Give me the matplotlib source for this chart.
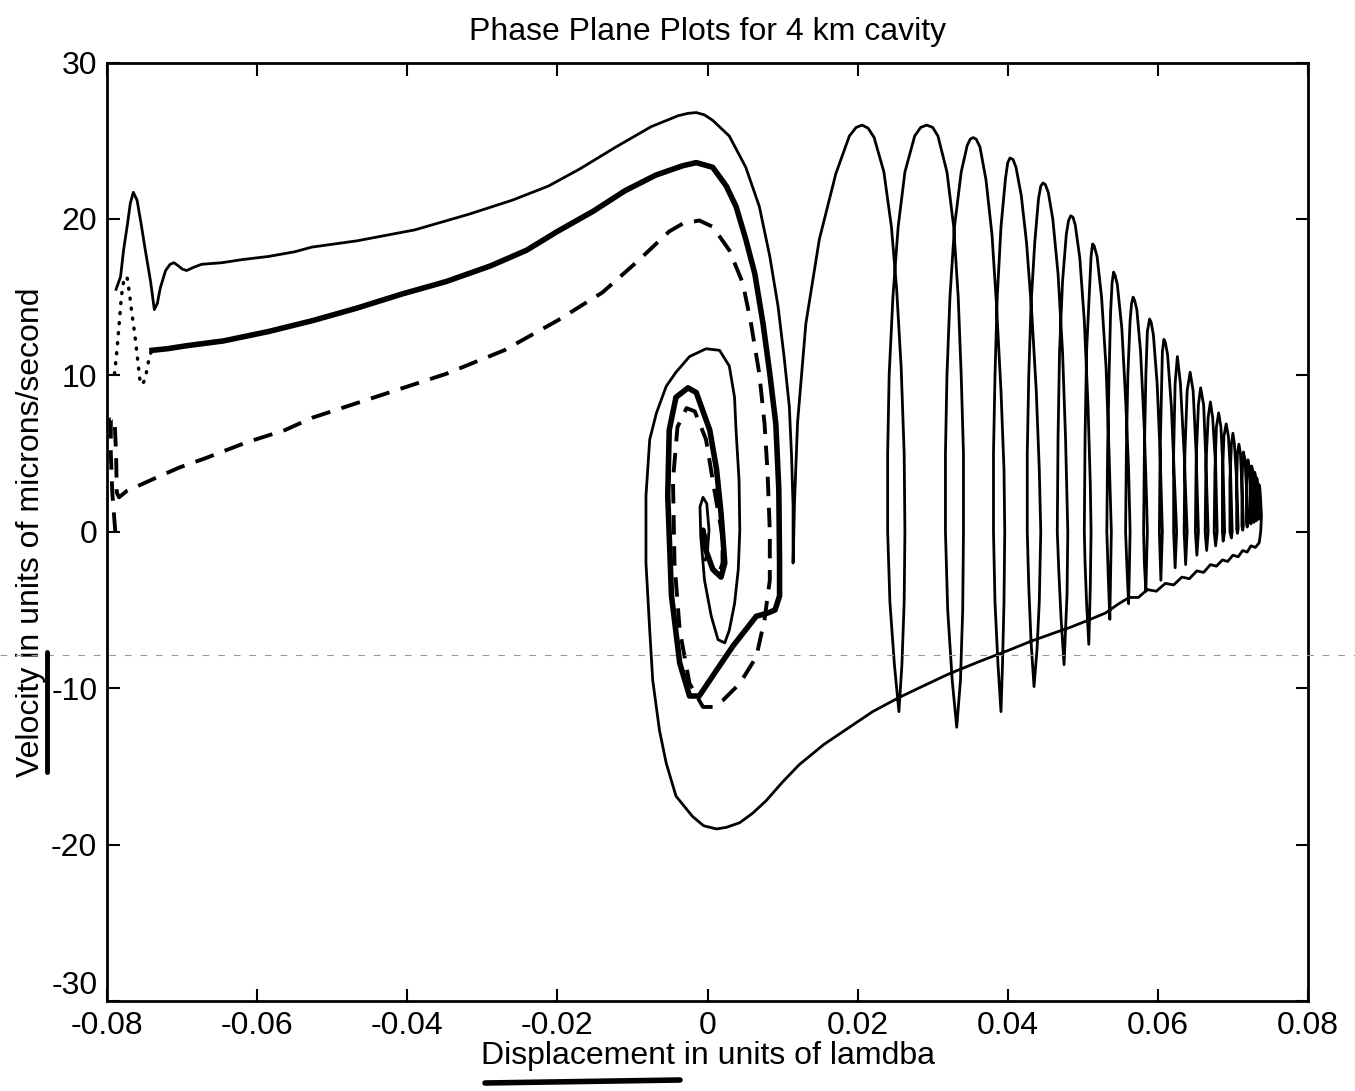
""" Phase plane plots for a 4 km cavity, redrawn from a scanned figure """

import numpy as np
import matplotlib
matplotlib.use('Agg')
import matplotlib.pyplot as plt
from matplotlib.lines import Line2D

# axis ticks and labels
x_ticks = [-0.08, -0.06, -0.04, -0.02, 0, 0.02, 0.04, 0.06, 0.08]
x_tick_labels = ['-0.08', '-0.06', '-0.04', '-0.02', '0', '0.02', '0.04', '0.06', '0.08']
y_ticks = [-30, -20, -10, 0, 10, 20, 30]
y_tick_labels = ['-30', '-20', '-10', '0', '10', '20', '30']

# thin solid trajectory: start on the left, over the top, down to the cusp
outer_top = [
    (-0.0788, 15.5), (-0.0782, 16.3), (-0.0778, 18.0), (-0.0773, 19.6), (-0.0769, 21.0),
    (-0.0765, 21.7), (-0.0760, 21.2), (-0.0755, 19.8), (-0.0749, 18.0), (-0.0742, 16.0),
    (-0.0737, 14.2), (-0.0733, 14.6), (-0.0729, 15.6), (-0.0722, 16.7), (-0.0716, 17.1),
    (-0.0711, 17.2), (-0.0705, 17.0), (-0.0700, 16.8), (-0.0694, 16.7), (-0.0685, 16.9),
    (-0.0674, 17.1), (-0.0647, 17.2), (-0.0620, 17.4), (-0.0585, 17.6), (-0.0550, 17.9),
    (-0.0527, 18.2), (-0.0467, 18.6), (-0.0390, 19.3), (-0.0318, 20.3), (-0.0260, 21.2),
    (-0.0212, 22.1), (-0.0170, 23.2), (-0.0122, 24.6), (-0.0075, 25.9), (-0.0039, 26.6),
    (-0.0026, 26.75), (-0.0015, 26.8), (-0.0004, 26.65), (0.0007, 26.3), (0.0029, 25.3),
    (0.0051, 23.3), (0.0069, 20.8), (0.0083, 17.6), (0.0094, 14.4), (0.0102, 11.2),
    (0.0109, 8.0), (0.0112, 4.8), (0.0114, 1.6), (0.0114, -2.0),
]

# thin solid trajectory: the shrinking oscillations on the right
oscillations = [
    (0.0116, 2.0), (0.0120, 7.0), (0.0131, 13.3), (0.0149, 18.7), (0.0171, 22.9),
    (0.0189, 25.3), (0.0198, 25.85), (0.0206, 26.0), (0.0214, 25.8), (0.0222, 25.2),
    (0.0235, 23.0), (0.0245, 19.5), (0.0252, 15.5), (0.0258, 10.5), (0.0262, 5.0),
    (0.0263, 0.0), (0.0262, -4.5), (0.0259, -8.5), (0.0255, -11.5),
    (0.0249, -8.5), (0.0243, -4.5), (0.0240, 0.0), (0.0240, 5.0), (0.0242, 10.0),
    (0.0247, 15.0), (0.0254, 19.5), (0.0263, 23.0), (0.0276, 25.3), (0.0284, 25.85),
    (0.0292, 26.0), (0.0300, 25.85), (0.0307, 25.3), (0.0319, 23.0), (0.0328, 19.5),
    (0.0334, 15.0), (0.0338, 10.0), (0.0341, 5.0), (0.0341, 0.0), (0.0340, -5.0),
    (0.0337, -9.5), (0.0332, -12.5),
    (0.0326, -9.5), (0.0320, -5.0), (0.0317, 0.0), (0.0317, 5.0), (0.0319, 10.0),
    (0.0323, 15.0), (0.0329, 19.5), (0.0338, 23.0), (0.0346, 24.7), (0.0350, 25.1),
    (0.0354, 25.2), (0.0358, 25.1), (0.0363, 24.6), (0.0371, 22.5), (0.0379, 19.0),
    (0.0385, 14.5), (0.0391, 9.0), (0.0395, 4.0), (0.0396, 0.0), (0.0395, -4.5),
    (0.0393, -8.5), (0.0391, -11.5),
    (0.0387, -8.5), (0.0383, -4.5), (0.0381, 0.0), (0.0381, 5.0), (0.0383, 10.0),
    (0.0386, 15.0), (0.0391, 19.5), (0.0397, 22.6), (0.0400, 23.6), (0.0403, 23.9),
    (0.0407, 23.8), (0.0411, 23.3), (0.0418, 21.5), (0.0425, 18.5), (0.0432, 14.0),
    (0.0438, 9.0), (0.0442, 4.0), (0.0444, 0.0), (0.0442, -4.5), (0.0439, -7.5),
    (0.0435, -9.9),
    (0.0431, -7.0), (0.0428, -3.5), (0.0426, 0.0), (0.0426, 5.0), (0.0428, 10.0),
    (0.0431, 14.5), (0.0436, 18.5), (0.0441, 21.3), (0.0444, 22.1), (0.0447, 22.3),
    (0.0450, 22.2), (0.0454, 21.7), (0.0460, 20.0), (0.0467, 16.5), (0.0473, 11.5),
    (0.0477, 6.0), (0.0480, 0.0), (0.0479, -4.0), (0.0475, -8.5),
    (0.0471, -5.5), (0.0468, -2.5), (0.0466, 0.0), (0.0467, 6.0), (0.0469, 11.5),
    (0.0473, 16.0), (0.0478, 19.0), (0.0481, 19.9), (0.0484, 20.2), (0.0487, 20.1),
    (0.0490, 19.6), (0.0496, 17.5), (0.0502, 13.5), (0.0507, 8.0), (0.0510, 3.0),
    (0.0511, 0.0), (0.0510, -3.5), (0.0508, -7.2),
    (0.0505, -4.5), (0.0503, -2.0), (0.0502, 0.0), (0.0503, 6.0), (0.0505, 11.5),
    (0.0509, 15.5), (0.0511, 17.6), (0.0513, 18.4), (0.0515, 18.3), (0.0519, 17.6),
    (0.0525, 15.0), (0.0531, 10.5), (0.0535, 5.0), (0.0538, 0.0), (0.0537, -3.0),
    (0.0536, -5.6),
    (0.0534, -3.0), (0.0532, 0.0), (0.0533, 5.0), (0.0535, 10.0), (0.0537, 14.0),
    (0.0539, 15.9), (0.0541, 16.6), (0.0543, 16.4), (0.0546, 15.8), (0.0552, 13.0),
    (0.0557, 8.5), (0.0561, 4.0), (0.0563, 0.0), (0.0562, -2.5), (0.0561, -4.6),
    (0.0559, -2.5), (0.0557, 0.0), (0.0558, 5.0), (0.0560, 10.0), (0.0563, 13.5),
    (0.0565, 14.6), (0.0567, 15.0), (0.0569, 14.8), (0.0572, 14.2), (0.0577, 11.5),
    (0.0582, 6.5), (0.0585, 2.0), (0.0586, 0.0), (0.0585, -2.0), (0.0584, -3.8),
    (0.0582, -2.0), (0.0581, 0.0), (0.0582, 5.0), (0.0584, 10.0), (0.0586, 12.8),
    (0.0589, 13.6), (0.0591, 13.4), (0.0594, 12.6), (0.0599, 9.5), (0.0603, 5.0),
    (0.0606, 0.0), (0.0605, -1.5), (0.0604, -3.1),
    (0.0603, -1.5), (0.0602, 0.0), (0.0603, 5.0), (0.0605, 9.5), (0.0606, 11.5),
    (0.0608, 12.3), (0.0610, 12.1), (0.0613, 11.3), (0.0618, 8.0), (0.0622, 3.5),
    (0.0625, 0.0), (0.0623, -2.3),
    (0.0621, 0.0), (0.0621, 5.0), (0.0623, 9.5), (0.0626, 11.2), (0.0630, 9.5),
    (0.0635, 5.0), (0.0639, 0.0), (0.0637, -2.1),
    (0.0635, 0.0), (0.0636, 5.0), (0.0639, 9.0), (0.0643, 10.2), (0.0647, 9.0),
    (0.0651, 5.0), (0.0654, 0.0), (0.0652, -1.5),
    (0.0650, 0.0), (0.0651, 4.5), (0.0654, 8.1), (0.0657, 9.2), (0.0661, 8.1),
    (0.0664, 4.5), (0.0667, 0.0), (0.0665, -1.2),
    (0.0663, 0.0), (0.0664, 4.2), (0.0667, 7.3), (0.0670, 8.3), (0.0673, 7.3),
    (0.0677, 4.2), (0.0679, 0.0), (0.0677, -0.9),
    (0.0675, 0.0), (0.0676, 3.8), (0.0678, 6.7), (0.0681, 7.6), (0.0684, 6.7),
    (0.0687, 3.8), (0.0689, 0.0), (0.0687, -0.6),
    (0.0686, 0.0), (0.0686, 3.5), (0.0688, 6.1), (0.0691, 6.9), (0.0694, 6.1),
    (0.0697, 3.5), (0.0699, 0.0), (0.0698, -0.4),
    (0.0696, 0.0), (0.0696, 3.3), (0.0698, 5.6), (0.0700, 6.3), (0.0702, 5.6),
    (0.0705, 3.3), (0.0707, 0.2), (0.0706, -0.1),
    (0.0705, 0.2), (0.0705, 3.0), (0.0706, 5.0), (0.0708, 5.6), (0.0710, 5.0),
    (0.0712, 3.0), (0.0714, 0.4), (0.0713, 0.1),
    (0.0712, 0.4), (0.0712, 2.9), (0.0713, 4.6), (0.0714, 5.1), (0.0716, 4.6),
    (0.0718, 2.9), (0.0720, 0.6), (0.0719, 0.3),
    (0.0718, 0.6), (0.0718, 2.7), (0.0719, 4.1), (0.0720, 4.6), (0.0722, 4.1),
    (0.0723, 2.7), (0.0725, 0.8), (0.0724, 0.5),
    (0.0723, 0.8), (0.0723, 2.6), (0.0724, 3.8), (0.0725, 4.2), (0.0727, 3.8),
    (0.0728, 2.6), (0.0729, 0.9), (0.0728, 0.6),
    (0.0727, 0.9), (0.0727, 2.4), (0.0728, 3.4), (0.0729, 3.8), (0.0731, 3.4),
    (0.0731, 2.4), (0.0732, 1.0), (0.0731, 0.7),
    (0.0730, 1.0), (0.0730, 2.3), (0.0731, 3.1), (0.0732, 3.4), (0.0733, 3.1),
    (0.0734, 2.3), (0.0735, 1.1), (0.0734, 0.8),
    (0.0733, 1.1), (0.0733, 2.2), (0.0734, 2.8), (0.0735, 3.0), (0.0736, 2.7),
    (0.0737, 2.0), (0.0738, 1.0), (0.0737, 0.0), (0.0735, -0.7),
]

# thin solid trajectory: the return sweep along the bottom
return_path = [
    (0.0730, -1.0), (0.0724, -0.9), (0.0719, -1.3), (0.0713, -1.2), (0.0707, -1.6),
    (0.0700, -1.5), (0.0693, -1.9), (0.0686, -1.8), (0.0678, -2.2), (0.0670, -2.1),
    (0.0661, -2.6), (0.0652, -2.5), (0.0642, -3.0), (0.0632, -2.9), (0.0621, -3.4),
    (0.0610, -3.3), (0.0598, -3.8), (0.0586, -3.7), (0.0574, -4.2), (0.0562, -4.2),
    (0.0548, -4.6), (0.0530, -5.2), (0.0510, -5.6), (0.0484, -6.1), (0.0460, -6.5),
    (0.0431, -7.0), (0.0400, -7.6), (0.0362, -8.3), (0.0321, -9.1), (0.0290, -9.8),
    (0.0255, -10.6), (0.0220, -11.5), (0.0189, -12.5), (0.0155, -13.6), (0.0122, -14.9),
    (0.0100, -16.0), (0.0078, -17.2), (0.0060, -18.0), (0.0043, -18.6), (0.0025, -18.9),
    (0.0012, -19.0), (-0.0005, -18.8), (-0.0020, -18.2), (-0.0042, -16.9), (-0.0055, -14.8),
    (-0.0064, -12.7), (-0.0073, -9.5), (-0.0077, -6.3), (-0.0082, -2.0),
]

# thin solid trajectory: the spiral round the origin
inner_spiral = [
    (-0.0082, 2.3), (-0.0077, 5.9), (-0.0068, 7.6), (-0.0055, 9.3), (-0.0042, 10.2),
    (-0.0024, 11.2), (-0.0002, 11.7), (0.0016, 11.6), (0.0029, 10.6), (0.0036, 8.6),
    (0.0038, 6.5), (0.0042, 3.3), (0.0043, 0.1), (0.0041, -2.4), (0.0036, -4.6),
    (0.0029, -6.3), (0.0023, -7.1), (0.0014, -6.9), (0.0005, -5.4), (-0.0004, -3.1),
    (-0.0009, -0.3), (-0.0010, 1.6), (-0.0006, 2.2), (-0.0001, 1.8), (0.0002, 0.1),
    (0.0000, -1.2), (-0.0003, -1.8),
]

# heavy trajectory
thick_path = [
    (-0.0740, 11.6), (-0.0720, 11.7), (-0.0693, 11.9), (-0.0645, 12.2), (-0.0585, 12.8),
    (-0.0526, 13.5), (-0.0467, 14.3), (-0.0407, 15.2), (-0.0348, 16.0), (-0.0289, 17.0),
    (-0.0241, 18.0), (-0.0200, 19.2), (-0.0152, 20.5), (-0.0110, 21.8), (-0.0069, 22.8),
    (-0.0033, 23.4), (-0.0015, 23.6), (0.0007, 23.3), (0.0025, 22.1), (0.0038, 20.8),
    (0.0051, 18.7), (0.0063, 16.5), (0.0074, 13.3), (0.0083, 10.1), (0.0091, 6.9),
    (0.0095, 2.7), (0.0096, -2.0), (0.0096, -4.1), (0.0090, -5.0), (0.0080, -5.2),
    (0.0065, -5.4), (0.0034, -7.3), (0.0010, -9.0), (-0.0011, -10.5), (-0.0024, -10.5),
    (-0.0037, -8.4), (-0.0048, -4.1), (-0.0053, 2.3), (-0.0051, 6.5), (-0.0042, 8.6),
    (-0.0026, 9.2), (-0.0015, 8.9), (0.0003, 6.5), (0.0012, 4.0), (0.0018, 1.2),
    (0.0023, -2.0), (0.0018, -2.9), (0.0007, -2.4), (-0.0002, -1.2), (-0.0006, 0.1),
    (-0.0004, -0.8),
]

# dotted start on the far left
dotted_path = [
    (-0.0790, 10.1), (-0.0787, 11.5), (-0.0784, 13.2), (-0.0781, 15.0), (-0.0777, 16.3),
    (-0.0773, 16.2), (-0.0770, 15.2), (-0.0767, 14.0), (-0.0763, 12.6), (-0.0759, 10.9),
    (-0.0756, 9.6), (-0.0753, 9.4), (-0.0749, 9.8), (-0.0746, 10.6), (-0.0743, 11.3),
    (-0.0740, 11.6),
]

# dashed trajectory
dashed_path = [
    (-0.0789, 0.0), (-0.0793, 2.5), (-0.0795, 5.0), (-0.0795, 7.2), (-0.0790, 7.2),
    (-0.0788, 5.0), (-0.0787, 2.5), (-0.0784, 2.2), (-0.0774, 2.6), (-0.0737, 3.4),
    (-0.0704, 4.1), (-0.0669, 4.7), (-0.0615, 5.7), (-0.0563, 6.5), (-0.0526, 7.3),
    (-0.0437, 8.7), (-0.0348, 10.1), (-0.0271, 11.6), (-0.0200, 13.5), (-0.0140, 15.3),
    (-0.0093, 17.3), (-0.0051, 19.2), (-0.0033, 19.7), (-0.0011, 19.9), (0.0007, 19.5),
    (0.0029, 18.0), (0.0047, 15.9), (0.0058, 13.3), (0.0069, 10.1), (0.0076, 6.9),
    (0.0080, 3.8), (0.0083, 0.0), (0.0083, -3.1), (0.0076, -5.6), (0.0065, -8.0),
    (0.0043, -9.7), (0.0020, -10.8), (0.0007, -11.2), (-0.0006, -11.2), (-0.0024, -9.7),
    (-0.0037, -6.3), (-0.0044, -2.0), (-0.0046, 3.3), (-0.0040, 6.7), (-0.0028, 7.9),
    (-0.0017, 7.7), (-0.0002, 5.9), (0.0009, 2.7), (0.0020, -0.3), (0.0020, -2.0),
    (0.0014, -2.9), (0.0003, -2.0),
]


def main():
    plt.rcParams['font.family'] = ['Liberation Sans', 'DejaVu Sans']
    plt.rcParams['axes.unicode_minus'] = False

    fig = plt.figure(figsize=(13.55, 10.91), dpi=100)
    ax = fig.add_axes([0.079, 0.0825, 0.8863, 0.8602])

    thin = np.array(outer_top + oscillations + return_path + inner_spiral)
    thick = np.array(thick_path)
    dots = np.array(dotted_path)
    dash = np.array(dashed_path)

    ax.plot(thin[:, 0], thin[:, 1], color='k', lw=2.0, solid_joinstyle='round')
    ax.plot(thick[:, 0], thick[:, 1], color='k', lw=4.0, solid_joinstyle='round')
    ax.plot(dots[:, 0], dots[:, 1], color='k', lw=2.5, ls=(0, (0.3, 2.6)),
            dash_capstyle='round')
    ax.plot(dash[:, 0], dash[:, 1], color='k', lw=2.8, ls=(0, (5, 3)))

    ax.set_xlim(-0.08, 0.08)
    ax.set_ylim(-30, 30)
    ax.set_xticks(x_ticks)
    ax.set_xticklabels(x_tick_labels)
    ax.set_yticks(y_ticks)
    ax.set_yticklabels(y_tick_labels)
    ax.tick_params(direction='in', top=True, right=True, length=9, width=1.5,
                   labelsize=23, pad=7)
    for sp in ax.spines.values():
        sp.set_linewidth(2.0)
    # the bottom y label sits on the axis line, above the x labels
    ax.yaxis.get_major_ticks()[0].label1.set_verticalalignment('bottom')

    ax.set_title('Phase Plane Plots for 4 km cavity', fontsize=23, pad=16)
    ax.set_xlabel('Displacement in units of lamdba', fontsize=23, labelpad=0)
    ax.set_ylabel('Velocity in units of microns/second', fontsize=23, labelpad=4)

    # marks left on the scanned page
    fig.add_artist(Line2D([0, 1], [1 - 655 / 1091] * 2, color='0.6', lw=0.8,
                          ls=(0, (6, 8))))
    fig.add_artist(Line2D([485 / 1355, 680 / 1355], [1 - 1083 / 1091, 1 - 1080 / 1091],
                          color='k', lw=4, solid_capstyle='round'))
    fig.add_artist(Line2D([47 / 1355, 47 / 1355], [1 - 652 / 1091, 1 - 772 / 1091],
                          color='k', lw=3.5, solid_capstyle='round'))

    fig.savefig('out.png', dpi=100)


if __name__ == '__main__':
    main()
